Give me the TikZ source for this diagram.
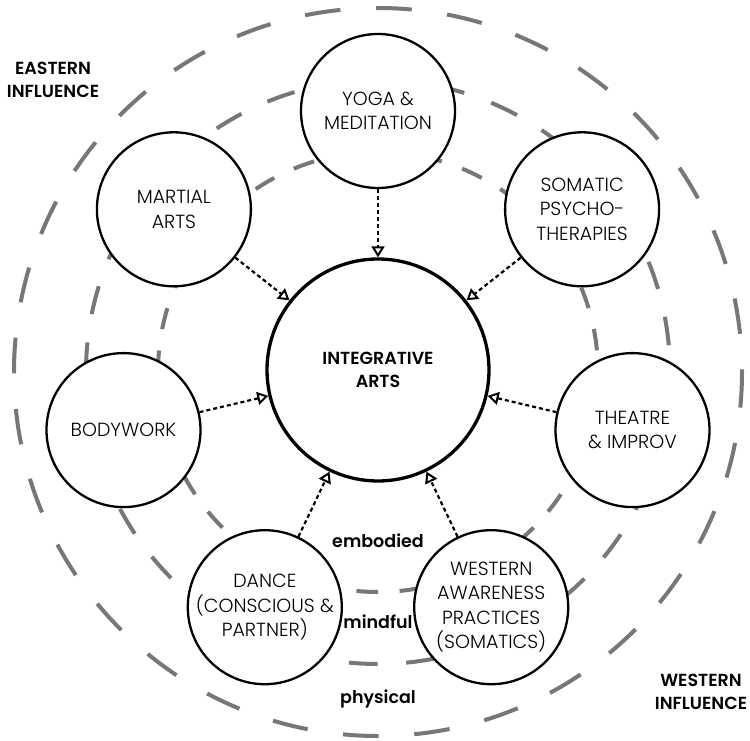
\documentclass[tikz,border=0pt]{standalone}
\usepackage{fontspec}
\setmainfont{Poppins}[UprightFont=* Light, BoldFont=* SemiBold]
\usetikzlibrary{arrows.meta}
\definecolor{ringgray}{HTML}{777777}
\begin{document}
\begin{tikzpicture}[x=1pt,y=-1pt,
  ring/.style={draw=ringgray, line width=4pt},
  sat/.style={circle, draw=black, line width=2.3pt, fill=white, minimum size=154pt, inner sep=0pt},
  hub/.style={circle, draw=black, line width=3.3pt, fill=white, minimum size=222pt, inner sep=0pt},
  lbl/.style={align=center, font=\fontsize{19}{24.5}\selectfont, inner sep=0pt},
  blbl/.style={align=center, font=\bfseries\fontsize{17.5}{23}\selectfont, inner sep=0pt},
  arr/.style={line width=2.2pt, dash pattern=on 4pt off 3pt, -{Triangle[open, length=11pt, width=13pt, line width=2pt]}}
]
\useasboundingbox (0,0) rectangle (750,741);
\coordinate (c) at (378,372);
% dashed rings
\draw[ring, dash pattern=on 35.7pt off 35.7pt] (c) circle[radius=364];
\draw[ring, dash pattern=on 28.7pt off 28.7pt] (c) circle[radius=292];
\draw[ring, dash pattern=on 21.6pt off 21.6pt] (c) circle[radius=220];
% hub
\node[hub] (main) at (378,370) {};
\node[blbl] (maint) at (main) {INTEGRATIVE\\ARTS};
% satellites
\node[sat] (yoga) at (378,111) {};
\node[lbl] (yogat) at (yoga) {YOGA \&\\MEDITATION};
\node[sat] (martial) at (173.9,209.3) {};
\node[lbl] (martialt) at (martial) {MARTIAL\\ARTS};
\node[sat] (somatic) at (582.1,209.3) {};
\node[lbl] (somatict) at (somatic) {SOMATIC\\PSYCHO-\\THERAPIES};
\node[sat] (body) at (123.5,430.1) {};
\node[lbl] (bodyt) at (body) {BODYWORK};
\node[sat] (theatre) at (632.5,430.1) {};
\node[lbl] (theatret) at (theatre) {THEATRE\\\& IMPROV};
\node[sat] (dance) at (264.8,607.2) {};
\node[lbl] (dancet) at (dance) {DANCE\\(CONSCIOUS \&\\PARTNER)};
\node[sat] (western) at (491.2,607.2) {};
\node[lbl] (westernt) at (western) {WESTERN\\AWARENESS\\PRACTICES\\(SOMATICS)};
% arrows
\foreach \s in {yoga,martial,somatic,body,theatre,dance,western}
  \draw[arr] (\s) -- (main);
% ring labels
\node[blbl, anchor=base] (emb) at (378,547) {embodied};
\node[blbl, anchor=base] (mind) at (378,628) {mindful};
\node[blbl, anchor=base] (phys) at (378,703) {physical};
% influence labels
\node[blbl] (east) at (53,80) {EASTERN\\INFLUENCE};
\node[blbl] (west) at (701,692) {WESTERN\\INFLUENCE};
\end{tikzpicture}
\end{document}
